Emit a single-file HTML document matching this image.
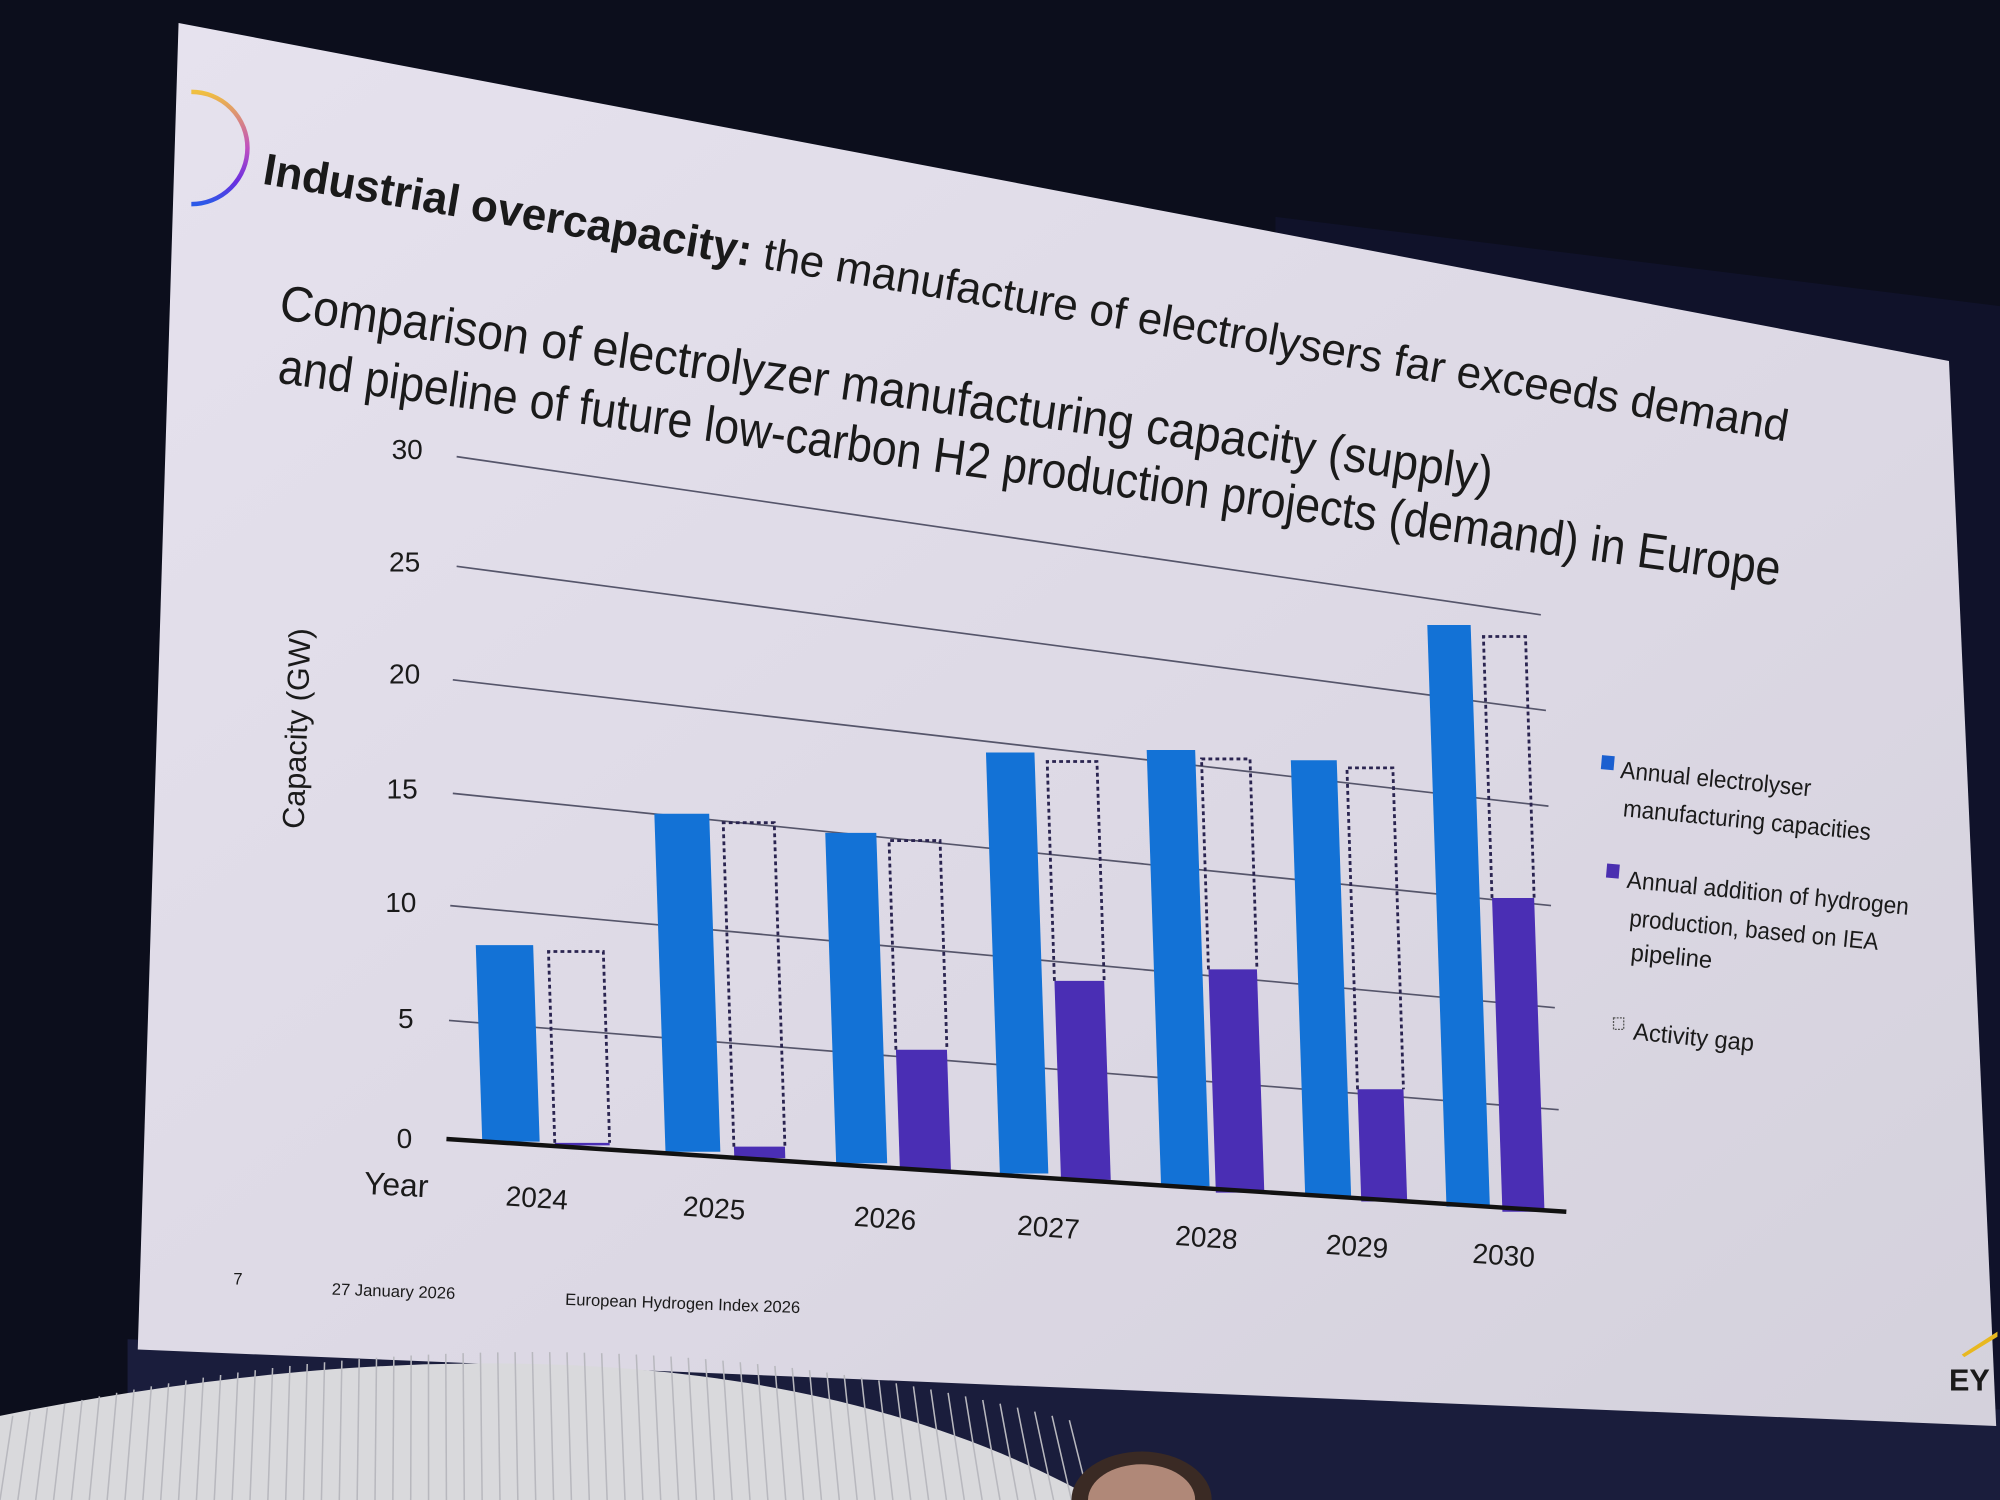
<!DOCTYPE html>
<html><head><meta charset="utf-8"><style>
html,body{margin:0;padding:0;background:#0c0e1c;overflow:hidden}
svg{display:block}
text{font-family:"Liberation Sans","DejaVu Sans",sans-serif;fill:#1a1a1a}
</style></head><body>
<svg id="s" width="2000" height="1500" viewBox="0 0 1568 1176" preserveAspectRatio="none" xmlns="http://www.w3.org/2000/svg">
<defs>
<linearGradient id="sl" x1="0" y1="0" x2="1" y2="1">
<stop offset="0" stop-color="#e6e2ee"/><stop offset="0.6" stop-color="#dcd8e4"/><stop offset="1" stop-color="#d4d1dc"/></linearGradient>
<linearGradient id="ring" x1="0" y1="0" x2="0" y2="1">
<stop offset="0" stop-color="#f0c040"/><stop offset="0.5" stop-color="#c04fc0"/><stop offset="0.8" stop-color="#6a2ee0"/><stop offset="1" stop-color="#2a5ae8"/></linearGradient>
</defs>
<rect width="1568" height="1176" fill="#0c0e1c"/>
<polygon points="1000,170 1568,240 1568,1176 1000,1176" fill="#10122a"/>
<polygon points="100,1050 1568,1105 1568,1176 100,1176" fill="#1a1d3c"/>
<polygon points="140,18 1528,283 1565,1118 108,1058" fill="url(#sl)"/>
<path d="M150,72 A40,40 0 0 1 150,160" fill="none" stroke="url(#ring)" stroke-width="3.5"/>
<text x="205" y="144" font-size="35" textLength="1212" lengthAdjust="spacingAndGlyphs" transform="rotate(9.6 205 144)"><tspan font-weight="bold">Industrial overcapacity:</tspan> the manufacture of electrolysers far exceeds demand</text>
<text x="218" y="250" font-size="39" textLength="960" lengthAdjust="spacingAndGlyphs" transform="rotate(8.1 218 250)">Comparison of electrolyzer manufacturing capacity (supply)</text>
<text x="217" y="300" font-size="39" textLength="1188" lengthAdjust="spacingAndGlyphs" transform="rotate(7.7 217 300)">and pipeline of future low-carbon H2 production projects (demand) in Europe</text>
<g id="grid"></g>
<g font-size="22">
<text x="307" y="360">30</text><text x="305" y="448">25</text><text x="305" y="536">20</text>
<text x="303" y="626">15</text><text x="302" y="715">10</text><text x="312" y="806">5</text><text x="311" y="900">0</text>
</g>
<text x="285" y="936" font-size="25" transform="rotate(3 285 936)">Year</text>
<text x="238" y="650" font-size="24" transform="rotate(-88 238 650)">Capacity (GW)</text>
<g font-size="22">
<text x="396" y="945" transform="rotate(4 396 945)">2024</text>
<text x="535" y="953" transform="rotate(4 535 953)">2025</text>
<text x="669" y="961" transform="rotate(4 669 961)">2026</text>
<text x="797" y="968" transform="rotate(4 797 968)">2027</text>
<text x="921" y="976" transform="rotate(4 921 976)">2028</text>
<text x="1039" y="983" transform="rotate(4 1039 983)">2029</text>
<text x="1154" y="990" transform="rotate(4 1154 990)">2030</text>
</g>
<g id="bars"></g>
<rect x="1256" y="592" width="10" height="11" fill="#1a5fd0" transform="rotate(5 1256 592)"/>
<g font-size="19" lengthAdjust="spacingAndGlyphs">
<text x="1270" y="610" textLength="150" lengthAdjust="spacingAndGlyphs" transform="rotate(5.5 1270 610)">Annual electrolyser</text>
<text x="1272" y="640" textLength="195" lengthAdjust="spacingAndGlyphs" transform="rotate(5.5 1272 640)">manufacturing capacities</text>
<text x="1275" y="696" textLength="222" lengthAdjust="spacingAndGlyphs" transform="rotate(5.5 1275 696)">Annual addition of hydrogen</text>
<text x="1277" y="726" textLength="196" lengthAdjust="spacingAndGlyphs" transform="rotate(5.5 1277 726)">production, based on IEA</text>
<text x="1278" y="753" textLength="64" lengthAdjust="spacingAndGlyphs" transform="rotate(5.5 1278 753)">pipeline</text>
<text x="1280" y="815" textLength="95" lengthAdjust="spacingAndGlyphs" transform="rotate(5.5 1280 815)">Activity gap</text>
</g>
<rect x="1260" y="677" width="10" height="11" fill="#4a2fb0" transform="rotate(5 1260 677)"/>
<rect x="1265" y="798" width="8" height="9" fill="none" stroke="#555" stroke-width="1" stroke-dasharray="1.5 1"/>
<g font-size="13">
<text x="183" y="1007">7</text>
<text x="260" y="1015" transform="rotate(2 260 1015)">27 January 2026</text>
<text x="443" y="1023" transform="rotate(2 443 1023)">European Hydrogen Index 2026</text>
</g>
<text x="1528" y="1090" font-size="24" font-weight="bold" fill="#111">EY</text>
<polygon points="1538,1062 1566,1044 1566,1048 1540,1064" fill="#e8b820"/>
<path d="M0,1110 C250,1060 600,1030 860,1176 L0,1176 Z" fill="#d9d9dc"/>
<g id="pleat"></g>
<ellipse cx="895" cy="1176" rx="55" ry="38" fill="#3a2a24"/>
<ellipse cx="895" cy="1176" rx="42" ry="28" fill="#b08878"/>
</svg>
<script>
var NS="http://www.w3.org/2000/svg";
function el(p,t,a){var e=document.createElementNS(NS,t);for(var k in a)e.setAttribute(k,a[k]);p.appendChild(e);return e;}
var g=document.getElementById('grid');
var L=[[358,358,1208,482],[358,444,1212,557],[355,533,1214,632],[355,622,1216,710],[353,710,1219,790],[352,800,1222,870]];
L.forEach(function(l){el(g,'line',{x1:l[0],y1:l[1],x2:l[2],y2:l[3],stroke:'#55556a','stroke-width':1.3});});
var b=document.getElementById('bars');
var k=0.033;
function poly(xl,xr,yt,yb,attrs){var d=k*(yb-yt);attrs.points=xl+','+yt+' '+xr+','+yt+' '+(xr+d)+','+yb+' '+(xl+d)+','+yb;return el(b,'polygon',attrs);}
var blue=[[373,418,741,895],[513,556,638,903],[647,687,653,912],[773,811,590,920],[899,937,588,930],[1012,1048,596,938],[1119,1153,490,946]];
var gap=[[430,473,746,898,896],[567,607,645,908,899],[697,737,659,917,823],[821,860,597,925,769],[942,980,595,935,760],[1056,1092,602,942,854],[1163,1196,499,950,704]];
blue.forEach(function(r){poly(r[0],r[1],r[2],r[3],{fill:'#1372d6'});});
gap.forEach(function(r){
 var sh=k*(r[4]-r[2]);
 poly(r[0]+sh,r[1]+sh,r[4],r[3],{fill:'#4a2eb4'});
 var d=k*(r[4]-r[2]);
 el(b,'polyline',{points:(r[0]+d)+','+r[4]+' '+r[0]+','+r[2]+' '+r[1]+','+r[2]+' '+(r[1]+d)+','+r[4],fill:'none',stroke:'#2a2450','stroke-width':2.2,'stroke-dasharray':'3 2.5'});
});
el(b,'line',{x1:350,y1:893,x2:1228,y2:950,stroke:'#111','stroke-width':3.5});
var p=document.getElementById('pleat');
for(var x=0;x<860;x+=14){el(p,'line',{x1:x,y1:1176,x2:x*0.97+10,y2:1060+Math.pow((x-420)/420,2)*50,stroke:'#b8b8be','stroke-width':1.2});}
</script>
</body></html>
